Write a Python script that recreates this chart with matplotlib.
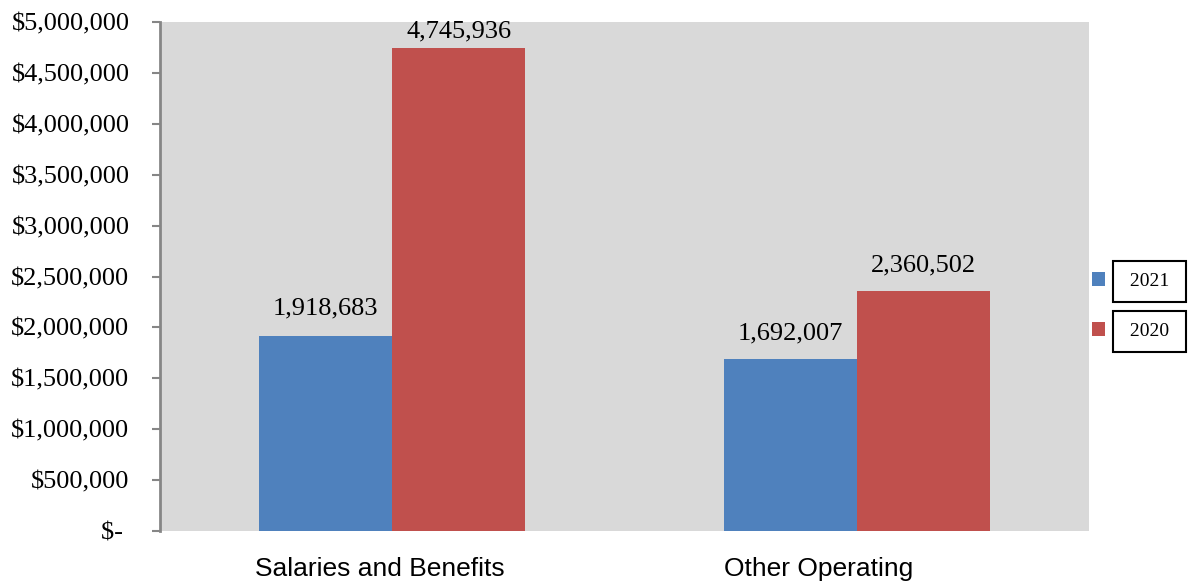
import numpy as np
import matplotlib.pyplot as plt
from matplotlib.ticker import FuncFormatter
from matplotlib.transforms import ScaledTranslation

# expense categories and yearly totals
categories = ['Salaries and Benefits', 'Other Operating']
years = ['2021', '2020']
values_2021 = [1918683, 1692007]
values_2020 = [4745936, 2360502]
colors = ['#4F81BD', '#C0504D']

fig = plt.figure(figsize=(11.93, 5.82), dpi=100)
ax = fig.add_axes([0.1341, 0.0876, 0.7787, 0.8746])
ax.set_facecolor('#D9D9D9')

x = np.arange(len(categories))
w = 0.286
b1 = ax.bar(x - w / 2, values_2021, w, color=colors[0], label=years[0])
b2 = ax.bar(x + w / 2, values_2020, w, color=colors[1], label=years[1])

serif = 'Liberation Serif'
# label offsets as placed in the original chart (points)
for bars, pads in ((b1, [12, 10.5]), (b2, [3.6, 10])):
    for rect, pad in zip(bars, pads):
        v = rect.get_height()
        ax.annotate(f'{v:,.0f}', (rect.get_x() + rect.get_width() / 2, v),
                    xytext=(0, pad), textcoords='offset points',
                    ha='center', va='bottom', fontsize=19, family=serif)

ax.set_xlim(-0.5, 1.5)
ax.set_ylim(0, 5000000)
ax.set_yticks(np.arange(0, 5000001, 500000))
ax.yaxis.set_major_formatter(FuncFormatter(lambda v, p: '$- ' if v == 0 else f'${v:,.0f}'))
for t in ax.get_yticklabels():
    t.set_family(serif)
ax.tick_params(axis='y', labelsize=19, length=6, width=1.5, color='#868686', pad=16)

ax.set_xticks(x)
ax.set_xticklabels(categories, fontsize=19, family='Liberation Sans')
ax.tick_params(axis='x', length=0, pad=19)
for t, dx in zip(ax.get_xticklabels(), [-12, -38]):
    t.set_transform(t.get_transform() + ScaledTranslation(dx / 100, 0, fig.dpi_scale_trans))

for s in ['top', 'right', 'bottom']:
    ax.spines[s].set_visible(False)
ax.spines['left'].set_color('#868686')
ax.spines['left'].set_linewidth(2)

leg = ax.legend(loc='center left', bbox_to_anchor=(0.915, 0.474), bbox_transform=fig.transFigure,
                frameon=False, prop={'family': serif, 'size': 14},
                handlelength=0.7, handleheight=0.7, handletextpad=1.0,
                labelspacing=1.65, borderpad=0, borderaxespad=0)
for t in leg.get_texts():
    t.set_text(' ' + t.get_text() + ' ')
    t.set_bbox(dict(boxstyle='square,pad=0.62', fc='white', ec='black', lw=1.5))

fig.savefig('out.png', dpi=100)
